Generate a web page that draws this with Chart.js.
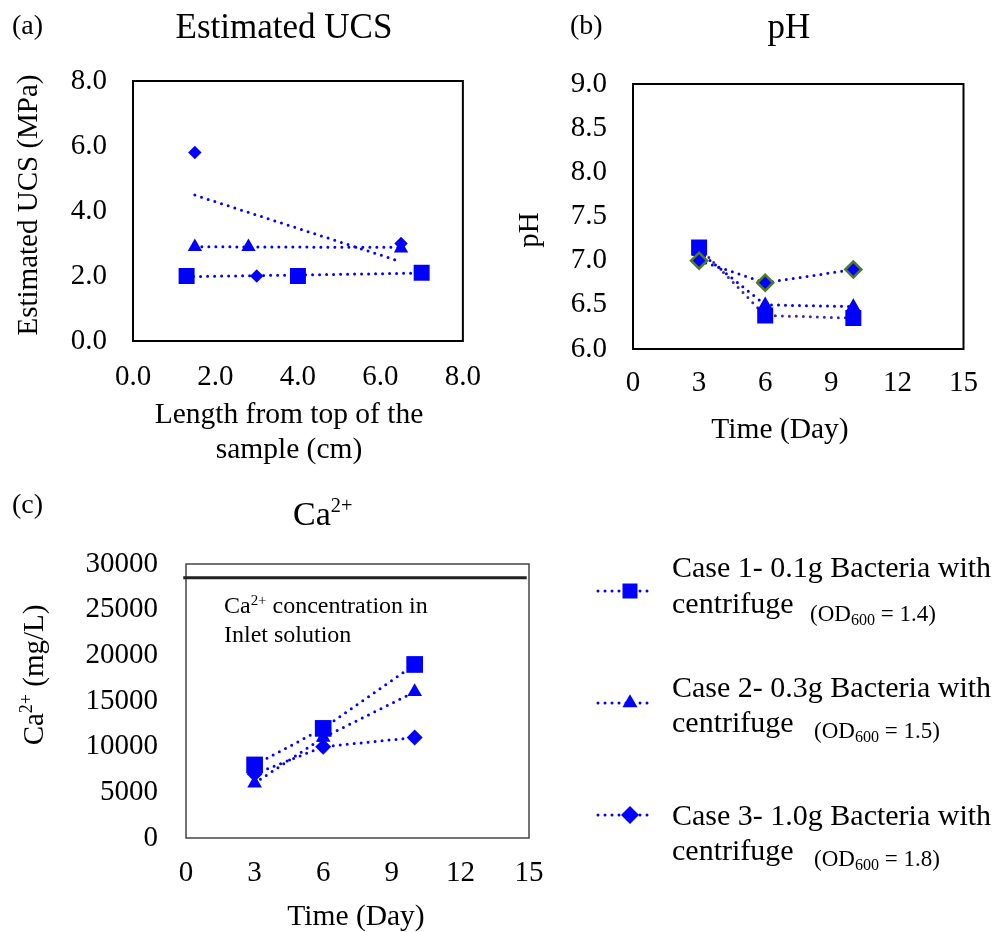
<!DOCTYPE html>
<html>
<head>
<meta charset="utf-8">
<title>Estimated UCS, pH and Ca2+</title>
<script src="https://cdn.jsdelivr.net/npm/chart.js@4.4.1/dist/chart.umd.min.js"></script>
<style>
  body { margin: 0; background: #fff; }
  #page { position: relative; width: 995px; height: 932px; overflow: hidden; }
  canvas { position: absolute; }
</style>
</head>
<body>
<div id="page">
  <canvas id="chart-ucs" width="500" height="470" style="left:0;top:0"></canvas>
  <canvas id="chart-ph" width="495" height="470" style="left:500px;top:0"></canvas>
  <canvas id="chart-ca" width="995" height="462" style="left:0;top:470px"></canvas>
</div>
<script>
const FONT = '"Liberation Serif", "Times New Roman", serif';
const BLUE = "#0000ff";
const SQUARE_LINE = "#3b2c9f";
const DIAMOND_EDGE = "#4e7c26";

// (a) estimated UCS along the sample
const ucsLengthCase1 = [1.3, 4.0, 7.0];
const ucsCase1 = [2.0, 2.0, 2.1];
const ucsLengthCase2 = [1.5, 2.8, 6.5];
const ucsCase2 = [2.9, 2.9, 2.85];
const ucsLengthCase3 = [1.5, 3.0, 6.5];
const ucsCase3 = [5.8, 2.0, 3.0];
// linear trend lines (end points)
const ucsTrendLengthCase1 = [1.3, 7.0];
const ucsTrendCase1 = [1.98, 2.09];
const ucsTrendLengthCase2 = [1.5, 6.5];
const ucsTrendCase2 = [2.9, 2.88];
const ucsTrendLengthCase3 = [1.5, 6.5];
const ucsTrendCase3 = [4.49, 2.44];
const ucsTicks = [0, 2, 4, 6, 8];
const lengthTicks = [0, 2, 4, 6, 8];

// (b) pH over time
const phDays = [3, 6, 10];
const phCase1 = [7.15, 6.38, 6.35];
const phCase2 = [7.1, 6.5, 6.48];
const phCase3 = [7.0, 6.75, 6.9];
const phTicks = [6.0, 6.5, 7.0, 7.5, 8.0, 8.5, 9.0];
const dayTicks = [0, 3, 6, 9, 12, 15];

// (c) Ca2+ over time
const caDays = [3, 6, 10];
const caCase1 = [8000, 12000, 19000];
const caCase2 = [6000, 11000, 16000];
const caCase3 = [7000, 10000, 11000];
const caTicks = [0, 5000, 10000, 15000, 20000, 25000, 30000];
const caInlet = 28500;
const caInletSpan = [-0.12, 14.9];

const caseNames = ["Case 1- 0.1g Bacteria with", "Case 2- 0.3g Bacteria with", "Case 3- 1.0g Bacteria with"];
const caseOD = ["1.4", "1.5", "1.8"];

const points = (xs, ys) => xs.map((x, i) => ({ x, y: ys[i] }));

function markers(xs, ys, style, radius, extra) {
  return Object.assign({
    data: points(xs, ys),
    showLine: false,
    pointStyle: style,
    pointRadius: radius,
    pointBackgroundColor: BLUE,
    pointBorderWidth: 0,
    borderColor: BLUE,
  }, extra);
}

function dotted(xs, ys, color, extra) {
  return Object.assign({
    data: points(xs, ys),
    showLine: true,
    borderColor: color,
    borderWidth: 3,
    borderDash: [0, 7],
    borderCapStyle: "round",
    pointRadius: 0,
  }, extra);
}

function axis(min, max, ticks, fmt, pad, size) {
  return {
    type: "linear",
    min,
    max,
    grid: { display: false, drawTicks: false },
    border: { display: false },
    afterBuildTicks: (a) => { a.ticks = ticks.map((v) => ({ value: v })); },
    afterFit: (a) => { if (a.isHorizontal()) a.height = size; else a.width = size; },
    ticks: {
      autoSkip: false,
      padding: pad,
      color: "#000",
      font: { family: FONT, size: 29, lineHeight: 1.2 },
      callback: fmt,
    },
  };
}

// text with optional super/subscript pieces
function drawRich(ctx, item) {
  const size = item.size;
  const pieces = item.parts.map(([text, kind]) => {
    const s = kind ? size * (item.script || 0.62) : size;
    ctx.font = `${s}px ${FONT}`;
    return { text, kind, s, w: ctx.measureText(text).width };
  });
  const total = pieces.reduce((sum, p) => sum + p.w, 0);
  ctx.save();
  ctx.translate(item.x, item.y);
  if (item.rotate) ctx.rotate(-Math.PI / 2);
  ctx.fillStyle = "#000";
  ctx.textAlign = "left";
  ctx.textBaseline = "alphabetic";
  const base = size * 0.34;
  let x = item.align === "center" ? -total / 2 : 0;
  for (const p of pieces) {
    ctx.font = `${p.s}px ${FONT}`;
    const shift = p.kind === "sup" ? -size * 0.36 : p.kind === "sub" ? size * 0.16 : 0;
    ctx.fillText(p.text, x, base + shift);
    x += p.w;
  }
  ctx.restore();
}

const notes = (items) => ({
  id: "notes",
  afterDraw(chart) { items.forEach((it) => drawRich(chart.ctx, it)); },
});

const frame = (color, width) => ({
  id: "frame",
  beforeDatasetsDraw(chart) {
    const { ctx, chartArea: a } = chart;
    ctx.save();
    ctx.strokeStyle = color;
    ctx.lineWidth = width;
    ctx.strokeRect(a.left, a.top, a.right - a.left, a.bottom - a.top);
    ctx.restore();
  },
});

function baseOptions(padding, scales) {
  return {
    responsive: false,
    animation: false,
    layout: { padding },
    plugins: { legend: { display: false }, tooltip: { enabled: false } },
    scales,
  };
}

const oneDecimal = (v) => v.toFixed(1);
const plain = (v) => String(v);

// (a)
new Chart(document.getElementById("chart-ucs"), {
  type: "scatter",
  data: {
    datasets: [
      markers(ucsLengthCase1, ucsCase1, "rect", 11.3),
      markers(ucsLengthCase2, ucsCase2, "triangle", 8.3),
      markers(ucsLengthCase3, ucsCase3, "rectRot", 6.7),
      dotted(ucsTrendLengthCase1, ucsTrendCase1, BLUE),
      dotted(ucsTrendLengthCase2, ucsTrendCase2, BLUE),
      dotted(ucsTrendLengthCase3, ucsTrendCase3, BLUE),
    ],
  },
  options: baseOptions({ left: 0, right: 37, top: 81, bottom: 0 }, {
    x: axis(0, 8, lengthTicks, oneDecimal, 19, 129),
    y: axis(0, 8, ucsTicks, oneDecimal, 26, 133),
  }),
  plugins: [frame("#000", 2), notes([
    { x: 12, y: 24, size: 28, parts: [["(a)"]] },
    { x: 284, y: 26, size: 35, align: "center", parts: [["Estimated UCS"]] },
    { x: 27, y: 205, size: 29, align: "center", rotate: true, parts: [["Estimated UCS (MPa)"]] },
    { x: 289, y: 413, size: 29.5, align: "center", parts: [["Length from top of the"]] },
    { x: 289, y: 448, size: 29.5, align: "center", parts: [["sample (cm)"]] },
  ])],
});

// (b)
const phLine = (ys, style, radius, lineColor, extra) =>
  Object.assign(dotted(phDays, ys, lineColor), {
    pointStyle: style,
    pointRadius: radius,
    pointBackgroundColor: BLUE,
    pointBorderWidth: 0,
  }, extra);

new Chart(document.getElementById("chart-ph"), {
  type: "scatter",
  data: {
    datasets: [
      phLine(phCase1, "rect", 11.3, SQUARE_LINE, { order: 3 }),
      phLine(phCase2, "triangle", 8.3, BLUE, { order: 2 }),
      phLine(phCase3, "rectRot", 8, BLUE, { order: 1, pointBorderWidth: 2.5, pointBorderColor: DIAMOND_EDGE }),
    ],
  },
  options: baseOptions({ left: 0, right: 24, top: 84, bottom: 0 }, {
    x: axis(0, 15, dayTicks, plain, 17, 121),
    y: axis(6, 9, phTicks, oneDecimal, 26, 133),
  }),
  plugins: [frame("#000", 2), notes([
    { x: 70, y: 24, size: 28, parts: [["(b)"]] },
    { x: 289, y: 26, size: 35, align: "center", parts: [["pH"]] },
    { x: 28, y: 230, size: 29, align: "center", rotate: true, parts: [["pH"]] },
    { x: 280, y: 428, size: 29.5, align: "center", parts: [["Time (Day)"]] },
  ])],
});

// (c) with legend on the right
const legendRows = [
  { y: 121, text: 97, text2: 133, od: 143, odX: 810, style: "rect", radius: 10.6 },
  { y: 233, text: 217, text2: 252, od: 260, odX: 814, style: "triangle", radius: 8.7 },
  { y: 345, text: 345, text2: 380, od: 388, odX: 814, style: "rectRot", radius: 9 },
];

const caLegend = {
  id: "caLegend",
  afterDraw(chart) {
    const ctx = chart.ctx;
    legendRows.forEach((row, i) => {
      ctx.save();
      ctx.strokeStyle = BLUE;
      ctx.lineWidth = 3;
      ctx.lineCap = "round";
      ctx.setLineDash([0, 7]);
      ctx.beginPath();
      ctx.moveTo(598, row.y);
      ctx.lineTo(654, row.y);
      ctx.stroke();
      ctx.restore();
      ctx.save();
      ctx.fillStyle = BLUE;
      Chart.helpers.drawPoint(ctx, { pointStyle: row.style, radius: row.radius, rotation: 0, borderWidth: 0 }, 630, row.y);
      ctx.restore();
      drawRich(ctx, { x: 672, y: row.text, size: 30, parts: [[caseNames[i]]] });
      drawRich(ctx, { x: 672, y: row.text2, size: 30, parts: [["centrifuge"]] });
      drawRich(ctx, { x: row.odX, y: row.od, size: 23, script: 0.7, parts: [["(OD"], ["600", "sub"], [" = " + caseOD[i] + ")"]] });
    });
  },
};

const caLine = (ys, style, radius, extra) =>
  Object.assign(dotted(caDays, ys, BLUE), {
    pointStyle: style,
    pointRadius: radius,
    pointBackgroundColor: BLUE,
    pointBorderWidth: 0,
  }, extra);

new Chart(document.getElementById("chart-ca"), {
  type: "scatter",
  data: {
    datasets: [
      caLine(caCase1, "rect", 11.8, { order: 1 }),
      caLine(caCase2, "triangle", 8.5, { order: 2 }),
      caLine(caCase3, "rectRot", 8, { order: 3 }),
      {
        data: points(caInletSpan, [caInlet, caInlet]),
        showLine: true,
        borderColor: "#222",
        borderWidth: 3,
        pointRadius: 0,
        clip: false,
        order: 4,
      },
    ],
  },
  options: baseOptions({ left: 0, right: 466, top: 94, bottom: 0 }, {
    x: axis(0, 15, dayTicks, plain, 18, 94),
    y: axis(0, 30000, caTicks, plain, 28, 186),
  }),
  plugins: [frame("#444", 1.5), caLegend, notes([
    { x: 12, y: 33, size: 28, parts: [["(c)"]] },
    { x: 293, y: 43, size: 34, script: 0.6, parts: [["Ca"], ["2+", "sup"]] },
    { x: 33, y: 205, size: 29, align: "center", rotate: true, parts: [["Ca"], ["2+", "sup"], [" (mg/L)"]] },
    { x: 356, y: 445, size: 29.5, align: "center", parts: [["Time (Day)"]] },
    { x: 224, y: 135, size: 24, parts: [["Ca"], ["2+", "sup"], [" concentration in"]] },
    { x: 224, y: 164, size: 24, parts: [["Inlet solution"]] },
  ])],
});
</script>
</body>
</html>
